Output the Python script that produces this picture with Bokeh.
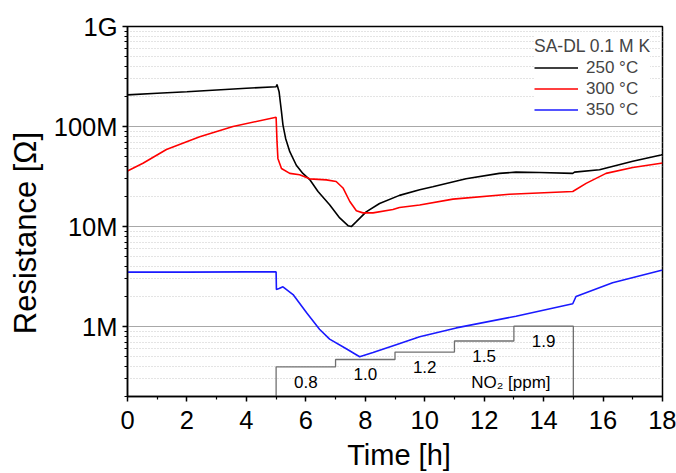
import numpy as np
from bokeh.plotting import figure
from bokeh.models import (Range1d, LinearScale, FixedTicker, CustomJSTickFormatter,
                          Legend, LegendItem, ColumnDataSource, Label)
from bokeh.core.properties import value
from bokeh.embed import file_html
from bokeh.resources import INLINE

FONT = "Liberation Sans"
NBSP = "\u00a0"

# ---------------- data ----------------
t_250 = [0, 1, 2, 3, 4, 5.0, 5.03, 5.1, 5.14, 5.18, 5.23, 5.32, 5.46, 5.68, 5.9, 6.13,
         6.41, 6.8, 7.14, 7.42, 7.53, 7.7, 8.03, 8.48, 9.15, 9.83, 10.27, 11.39, 12.51,
         13.07, 13.86, 14.98, 15.04, 15.88, 17.0, 17.95, 18.0]
r_250 = [2.07e8, 2.15e8, 2.23e8, 2.32e8, 2.41e8, 2.50e8, 2.63e8, 2.23e8, 1.77e8, 1.41e8,
         1.04e8, 7.6e7, 5.6e7, 4.1e7, 3.4e7, 2.95e7, 2.24e7, 1.65e7, 1.22e7, 1.02e7, 1.0e7,
         1.12e7, 1.4e7, 1.7e7, 2.05e7, 2.33e7, 2.5e7, 3.0e7, 3.4e7, 3.5e7, 3.47e7, 3.4e7,
         3.5e7, 3.7e7, 4.5e7, 5.2e7, 5.25e7]

t_300 = [0, 0.52, 1.31, 2.43, 3.55, 5.0, 5.03, 5.06, 5.18, 5.46, 5.79, 6.13, 6.69, 7.02,
         7.25, 7.48, 7.7, 7.92, 8.26, 8.93, 9.15, 9.83, 10.95, 12.85, 14.98, 15.43, 16.1,
         17.0, 17.95, 18.0]
r_300 = [3.6e7, 4.3e7, 5.9e7, 7.9e7, 1.0e8, 1.24e8, 7.1e7, 4.8e7, 3.8e7, 3.4e7, 3.3e7,
         3.0e7, 2.93e7, 2.82e7, 2.43e7, 1.78e7, 1.44e7, 1.37e7, 1.37e7, 1.48e7, 1.55e7,
         1.64e7, 1.88e7, 2.1e7, 2.24e7, 2.7e7, 3.4e7, 3.9e7, 4.3e7, 4.32e7]

t_350 = [0, 2, 4, 5.0, 5.01, 5.1, 5.23, 5.57, 6.02, 6.46, 6.8, 7.36, 7.81, 8.26, 9.04,
         9.83, 11.06, 13.07, 14.98, 15.09, 16.32, 17.97, 18.0]
r_350 = [3.5e6, 3.5e6, 3.52e6, 3.52e6, 2.35e6, 2.4e6, 2.5e6, 2.09e6, 1.38e6, 9.4e5,
         7.5e5, 6.0e5, 5.0e5, 5.5e5, 6.6e5, 7.9e5, 9.7e5, 1.27e6, 1.69e6, 2.0e6, 2.74e6,
         3.65e6, 3.67e6]

no2_start = [5, 7, 9, 11, 13]
no2_end = 15
no2_ppm = [0.8, 1.0, 1.2, 1.5, 1.9]

series_labels = ["250 °C", "300 °C", "350 °C"]
legend_title = "SA-DL 0.1 M K"
y_tick_labels = ["1M", "10M", "100M", "1G"]
x_ticks = [0, 2, 4, 6, 8, 10, 12, 14, 16, 18]

# ---------------- figure ----------------
p = figure(width=676, height=473, y_axis_type="log",
           x_range=Range1d(0, 18), y_range=Range1d(2e5, 1e9),
           output_backend="svg", toolbar_location=None,
           min_border_left=127, min_border_right=14,
           min_border_top=26, min_border_bottom=76)
p.extra_y_ranges = {"no2": Range1d(0, 10)}
p.extra_y_scales = {"no2": LinearScale()}

p.outline_line_color = "black"
p.outline_line_width = 1.5
p.background_fill_color = "white"
p.border_fill_color = "white"

# y ticks
majors = [1e6, 1e7, 1e8, 1e9]
minors = [k * 10.0 ** d for d in range(5, 9) for k in range(2, 10)]
yticker = FixedTicker(ticks=majors, minor_ticks=minors)
p.yaxis.ticker = yticker
p.ygrid.ticker = yticker
p.yaxis.formatter = CustomJSTickFormatter(
    args=dict(labs=y_tick_labels),
    code="const i = Math.round(Math.log10(tick)) - 6; return (i >= 0 && i < labs.length) ? labs[i] : '';")

xticker = FixedTicker(ticks=x_ticks, minor_ticks=[1, 3, 5, 7, 9, 11, 13, 15, 17])
p.xaxis.ticker = xticker

for ax in (p.xaxis, p.yaxis):
    ax.axis_line_width = 1.5
    ax.axis_line_color = "black"
    ax.major_tick_out = 5
    ax.major_tick_in = 0
    ax.minor_tick_out = 3
    ax.minor_tick_in = 0
    ax.major_tick_line_width = 1.5
    ax.minor_tick_line_width = 1.2
    ax.major_label_text_font = FONT
    ax.major_label_text_font_size = "25.5px"
    ax.major_label_text_color = "black"
    ax.axis_label_text_font = FONT
    ax.axis_label_text_font_style = "normal"
    ax.axis_label_text_color = "black"

p.xaxis.axis_label = NBSP + "Time [h]"
p.xaxis.axis_label_text_font_size = "29px"
p.xaxis.major_label_standoff = 9
p.xaxis.axis_label_standoff = 7
p.yaxis.axis_label = "Resistance [Ω]" + NBSP * 5
p.yaxis.axis_label_text_font_size = "31px"
p.yaxis.major_label_standoff = 5
p.yaxis.axis_label_standoff = 8

p.xgrid.visible = False
p.ygrid.grid_line_color = "#a8a8a8"
p.ygrid.grid_line_width = 1
p.ygrid.minor_grid_line_color = "#c8c8c8"
p.ygrid.minor_grid_line_dash = "1 2"
p.ygrid.minor_grid_line_width = 1

# NO2 staircase
sx, sy = [no2_start[0]], [0.0]
for i, (s, v) in enumerate(zip(no2_start, no2_ppm)):
    e = no2_start[i + 1] if i + 1 < len(no2_start) else no2_end
    sx += [s, e]
    sy += [v, v]
sx.append(no2_end)
sy.append(0.0)
p.line(sx, sy, y_range_name="no2", line_color="#707070", line_width=1.3)

lab_src = ColumnDataSource(dict(
    x=[s + 1 for s in no2_start],
    y=[v - 0.4 for v in no2_ppm],
    t=[f"{v:.1f}" for v in no2_ppm]))
p.text(x="x", y="y", text="t", source=lab_src, y_range_name="no2",
       text_font=value(FONT), text_font_size="17px", text_align="center",
       text_baseline="middle", text_color="black")
p.add_layout(Label(x=12.9, y=0.39, y_range_name="no2", text="NO₂ [ppm]",
                   text_font=FONT, text_font_size="17px", text_align="center",
                   text_baseline="middle", text_color="black"))

# curves
r1 = p.line(t_250, r_250, line_color="black", line_width=1.6)
r2 = p.line(t_300, r_300, line_color="#ff0000", line_width=1.6)
r3 = p.line(t_350, r_350, line_color="#1a1aff", line_width=1.6)

legend = Legend(items=[LegendItem(label=series_labels[0], renderers=[r1]),
                       LegendItem(label=series_labels[1], renderers=[r2]),
                       LegendItem(label=series_labels[2], renderers=[r3])],
                title=legend_title, location=(407, 276),
                border_line_color=None, background_fill_color="white",
                background_fill_alpha=1.0,
                label_text_font=FONT, label_text_font_size="17px",
                title_text_font=FONT, title_text_font_size="17.5px",
                title_text_font_style="normal",
                glyph_width=44, glyph_height=21, label_height=21,
                label_standoff=8, spacing=0, padding=4, margin=0,
                title_standoff=0)
p.add_layout(legend)

open("out.html", "w").write(file_html(p, INLINE))
